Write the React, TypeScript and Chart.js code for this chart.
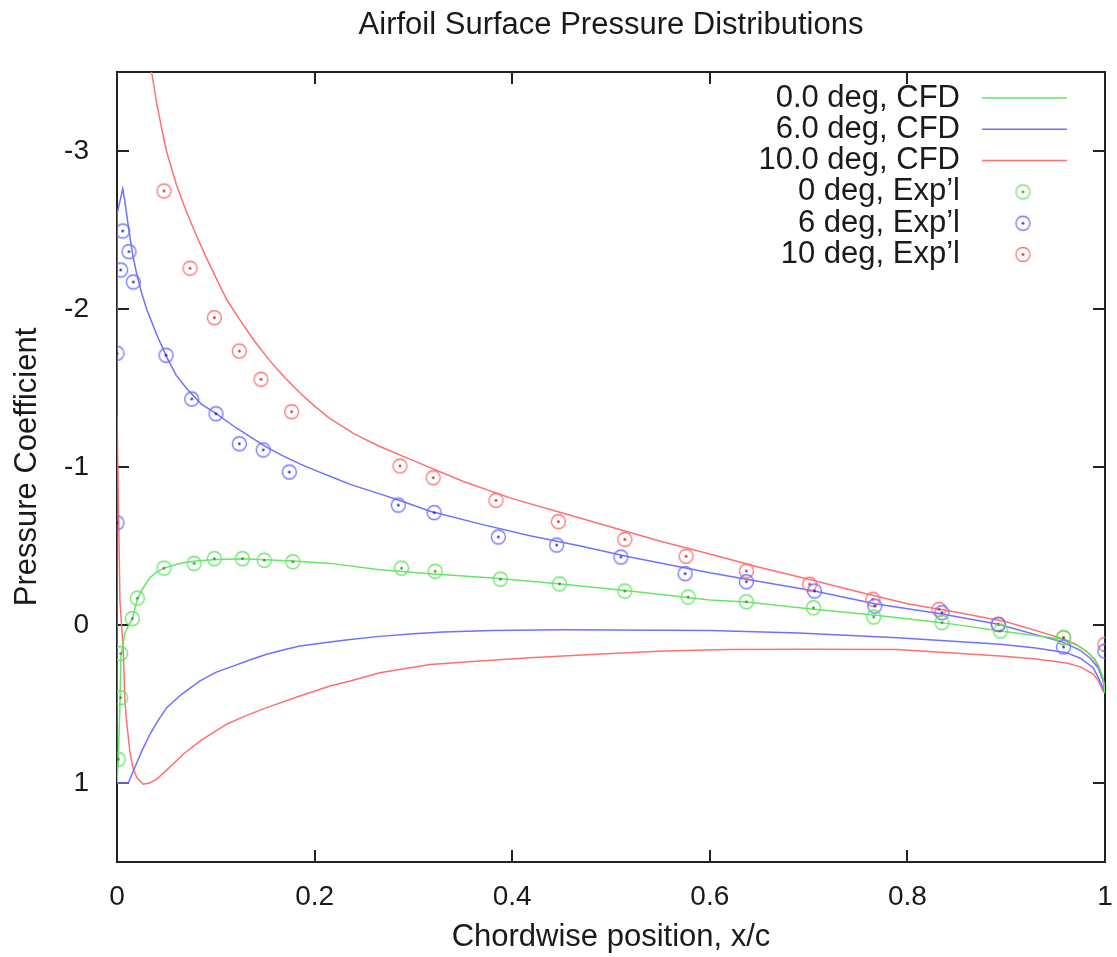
import React, { useEffect, useRef } from "react";
import { Chart, registerables } from "chart.js";

Chart.register(...registerables);

// ---------- text ----------
const TITLE = "Airfoil Surface Pressure Distributions";
const X_TITLE = "Chordwise position, x/c";
const Y_TITLE = "Pressure Coefficient";
const X_TICKS = [0, 0.2, 0.4, 0.6, 0.8, 1];
const Y_TICKS = [-3, -2, -1, 0, 1];
const LEGEND_LABELS = [
  "0.0 deg, CFD",
  "6.0 deg, CFD",
  "10.0 deg, CFD",
  "0 deg, Exp\u2019l",
  "6 deg, Exp\u2019l",
  "10 deg, Exp\u2019l",
];

// ---------- CFD 0 deg ----------
const cfd0X = [0, 0.0013, 0.003, 0.004, 0.008, 0.0155, 0.0205, 0.025, 0.0334, 0.04, 0.0476, 0.058, 0.067, 0.08, 0.1, 0.128, 0.178, 0.216, 0.266, 0.317, 0.384, 0.452, 0.519, 0.6, 0.637, 0.705, 0.766, 0.835, 0.894, 0.958, 0.975, 0.985, 0.993, 0.998, 1.0];
const cfd0Y = [1.0, 0.85, 0.5, 0.2, 0.05, -0.04, -0.16, -0.22, -0.3, -0.335, -0.36, -0.38, -0.394, -0.405, -0.415, -0.42, -0.405, -0.39, -0.35, -0.325, -0.296, -0.258, -0.215, -0.158, -0.146, -0.1, -0.063, -0.015, 0.038, 0.09, 0.14, 0.185, 0.25, 0.333, 0.43];

// ---------- CFD 6 deg (lower surface TE->LE, then upper LE->TE) ----------
const cfd6X = [1.0, 0.998, 0.993, 0.988, 0.975, 0.961, 0.93, 0.894, 0.79, 0.69, 0.6, 0.45, 0.38, 0.33, 0.3, 0.266, 0.236, 0.2156, 0.185, 0.17, 0.1515, 0.135, 0.1174, 0.1, 0.084, 0.065, 0.0503, 0.042, 0.0334, 0.025, 0.0165, 0.0114, 0.0, 0.0, 0.0058, 0.008, 0.012, 0.016, 0.02, 0.025, 0.03, 0.04, 0.05, 0.06, 0.07, 0.085, 0.1, 0.12, 0.135, 0.15, 0.168, 0.185, 0.2, 0.22, 0.236, 0.266, 0.29, 0.317, 0.367, 0.418, 0.469, 0.519, 0.6, 0.637, 0.706, 0.767, 0.835, 0.892, 0.958, 0.975, 0.985, 0.993, 0.998, 1.0];
const cfd6Y = [0.43, 0.397, 0.33, 0.27, 0.21, 0.175, 0.145, 0.122, 0.08, 0.05, 0.035, 0.03, 0.035, 0.045, 0.055, 0.072, 0.092, 0.108, 0.133, 0.155, 0.185, 0.22, 0.26, 0.3, 0.354, 0.44, 0.523, 0.6, 0.69, 0.8, 0.924, 1.0, 1.0, -2.6, -2.76, -2.68, -2.5, -2.34, -2.22, -2.1, -2.0, -1.84, -1.7, -1.58, -1.5, -1.4, -1.34, -1.25, -1.19, -1.13, -1.07, -1.02, -0.98, -0.93, -0.89, -0.83, -0.78, -0.72, -0.64, -0.565, -0.5, -0.43, -0.33, -0.29, -0.215, -0.135, -0.07, -0.005, 0.11, 0.16, 0.21, 0.27, 0.35, 0.43];

// ---------- CFD 10 deg (lower TE->LE, gap, upper from above the frame to TE) ----------
const cfd10X = [1.0, 0.998, 0.993, 0.988, 0.975, 0.961, 0.93, 0.894, 0.79, 0.7, 0.62, 0.553, 0.4855, 0.418, 0.367, 0.317, 0.266, 0.236, 0.2156, 0.185, 0.1515, 0.13, 0.111, 0.085, 0.067, 0.05, 0.04, 0.033, 0.0266, 0.02, 0.016, 0.013, 0.01, 0.008, 0.0064, 0.003, 0.0, 0.01, 0.02, 0.035, 0.04, 0.045, 0.05, 0.06, 0.07, 0.08, 0.09, 0.1, 0.111, 0.125, 0.14, 0.155, 0.17, 0.185, 0.2, 0.215, 0.24, 0.266, 0.3, 0.35, 0.4, 0.45, 0.5, 0.55, 0.6, 0.65, 0.7, 0.75, 0.8, 0.85, 0.9, 0.954, 0.97, 0.981, 0.99, 0.995, 0.999, 1.0];
const cfd10Y = [0.43, 0.418, 0.35, 0.31, 0.265, 0.24, 0.215, 0.196, 0.155, 0.154, 0.155, 0.165, 0.185, 0.207, 0.228, 0.25, 0.302, 0.354, 0.386, 0.449, 0.523, 0.575, 0.628, 0.73, 0.818, 0.92, 0.977, 1.0, 1.008, 0.966, 0.9, 0.797, 0.63, 0.48, 0.165, -0.15, -1.33, null, -4.4, -3.5, -3.31, -3.15, -3.0, -2.79, -2.62, -2.47, -2.33, -2.2, -2.06, -1.925, -1.79, -1.67, -1.565, -1.47, -1.385, -1.31, -1.21, -1.13, -1.04, -0.91, -0.8, -0.71, -0.62, -0.53, -0.45, -0.365, -0.29, -0.21, -0.135, -0.08, -0.02, 0.08, 0.12, 0.165, 0.22, 0.29, 0.37, 0.43];

// ---------- Experimental ----------
const exp0X = [0.0013, 0.0037, 0.0037, 0.0155, 0.0205, 0.0476, 0.078, 0.0985, 0.127, 0.149, 0.178, 0.288, 0.322, 0.388, 0.448, 0.514, 0.578, 0.637, 0.705, 0.766, 0.835, 0.894, 0.958];
const exp0Y = [0.85, 0.46, 0.18, -0.04, -0.17, -0.36, -0.39, -0.42, -0.42, -0.41, -0.4, -0.36, -0.34, -0.29, -0.26, -0.215, -0.177, -0.147, -0.109, -0.051, -0.015, 0.038, 0.08];

const exp6X = [0.0, 0.0, 0.0037, 0.0058, 0.0121, 0.0165, 0.0496, 0.0756, 0.1002, 0.1238, 0.148, 0.1744, 0.2847, 0.321, 0.386, 0.445, 0.51, 0.575, 0.637, 0.706, 0.767, 0.835, 0.892, 0.958, 1.0];
const exp6Y = [-0.647, -1.72, -2.247, -2.494, -2.363, -2.171, -1.707, -1.43, -1.337, -1.147, -1.108, -0.968, -0.759, -0.711, -0.557, -0.506, -0.43, -0.325, -0.274, -0.215, -0.12, -0.078, -0.004, 0.139, 0.165];

const exp10X = [0.0476, 0.0739, 0.0985, 0.1238, 0.1457, 0.1768, 0.2864, 0.32, 0.3836, 0.4467, 0.514, 0.576, 0.637, 0.701, 0.765, 0.832, 0.892, 0.958, 1.0];
const exp10Y = [-2.747, -2.258, -1.945, -1.734, -1.555, -1.35, -1.006, -0.932, -0.789, -0.654, -0.542, -0.435, -0.342, -0.258, -0.163, -0.099, -0.004, 0.08, 0.122];

// ---------- styles ----------
const GREEN = "rgb(102,230,102)";
const BLUE = "rgb(112,112,255)";
const RED = "rgb(255,112,112)";
const GREEN_DOT = "rgb(40,140,40)";
const BLUE_DOT = "rgb(30,30,180)";
const RED_DOT = "rgb(190,30,30)";
const FONT = '"Liberation Sans", Arial, Helvetica, sans-serif';
const TEXT = "#1a1a1a";

const zip = (xs: number[], ys: (number | null)[]) => xs.map((x, i) => ({ x, y: ys[i] }));

function makeMarker(ring: string, dot: string): HTMLCanvasElement {
  const c = document.createElement("canvas");
  c.width = 19;
  c.height = 19;
  const g = c.getContext("2d")!;
  g.strokeStyle = ring;
  g.lineWidth = 1.3;
  g.beginPath();
  g.arc(9.5, 9.5, 7, 0, Math.PI * 2);
  g.stroke();
  g.fillStyle = dot;
  g.beginPath();
  g.arc(9.5, 9.5, 1.3, 0, Math.PI * 2);
  g.fill();
  return c;
}

export default function App() {
  const ref = useRef<HTMLCanvasElement>(null);

  useEffect(() => {
    document.body.style.margin = "0";
    const canvas = ref.current;
    if (!canvas) return;

    const m0 = makeMarker(GREEN, GREEN_DOT);
    const m6 = makeMarker(BLUE, BLUE_DOT);
    const m10 = makeMarker(RED, RED_DOT);

    const legendItems = [
      { kind: "line", color: GREEN },
      { kind: "line", color: BLUE },
      { kind: "line", color: RED },
      { kind: "point", img: m0 },
      { kind: "point", img: m6 },
      { kind: "point", img: m10 },
    ];

    const framePlugin = {
      id: "frame",
      beforeDatasetsDraw(chart: any) {
        const { ctx, chartArea: a, scales } = chart;
        ctx.save();
        ctx.strokeStyle = "#222";
        ctx.lineWidth = 2;
        ctx.strokeRect(a.left, a.top, a.right - a.left, a.bottom - a.top);
        const tl = 12;
        X_TICKS.forEach((v) => {
          const px = Math.round(scales.x.getPixelForValue(v));
          ctx.beginPath();
          ctx.moveTo(px, a.bottom);
          ctx.lineTo(px, a.bottom - tl);
          ctx.moveTo(px, a.top);
          ctx.lineTo(px, a.top + tl);
          ctx.stroke();
        });
        Y_TICKS.forEach((v) => {
          const py = Math.round(scales.y.getPixelForValue(v));
          ctx.beginPath();
          ctx.moveTo(a.left, py);
          ctx.lineTo(a.left + tl, py);
          ctx.moveTo(a.right, py);
          ctx.lineTo(a.right - tl, py);
          ctx.stroke();
        });
        ctx.restore();
      },
      afterDraw(chart: any) {
        const { ctx, chartArea: a } = chart;
        ctx.save();
        ctx.font = `31px ${FONT}`;
        ctx.fillStyle = TEXT;
        ctx.textAlign = "right";
        ctx.textBaseline = "middle";
        const textRight = a.right - 145;
        const lineStart = a.right - 123;
        const lineEnd = a.right - 38;
        const ptX = a.right - 82;
        const rowH = 31.3;
        const y0 = a.top + 26;
        LEGEND_LABELS.forEach((label, i) => {
          const y = y0 + i * rowH;
          ctx.fillText(label, textRight, y);
          const it: any = legendItems[i];
          if (it.kind === "line") {
            ctx.strokeStyle = it.color;
            ctx.lineWidth = 1.5;
            ctx.beginPath();
            ctx.moveTo(lineStart, y);
            ctx.lineTo(lineEnd, y);
            ctx.stroke();
          } else {
            ctx.drawImage(it.img, ptX - it.img.width / 2, y - it.img.height / 2);
          }
        });
        ctx.restore();
      },
    };

    const lineDs = (label: string, xs: number[], ys: (number | null)[], color: string) => ({
      label,
      data: zip(xs, ys),
      showLine: true,
      borderColor: color,
      backgroundColor: color,
      borderWidth: 1.5,
      pointRadius: 0,
      spanGaps: false,
      tension: 0,
    });
    const ptDs = (label: string, xs: number[], ys: number[], img: HTMLCanvasElement) => ({
      label,
      data: zip(xs, ys),
      showLine: false,
      pointStyle: img,
      pointRadius: 8,
    });

    const chart = new Chart(canvas, {
      type: "scatter",
      data: {
        datasets: [
          ptDs(LEGEND_LABELS[3], exp0X, exp0Y, m0),
          ptDs(LEGEND_LABELS[4], exp6X, exp6Y, m6),
          ptDs(LEGEND_LABELS[5], exp10X, exp10Y, m10),
          lineDs(LEGEND_LABELS[0], cfd0X, cfd0Y, GREEN),
          lineDs(LEGEND_LABELS[1], cfd6X, cfd6Y, BLUE),
          lineDs(LEGEND_LABELS[2], cfd10X, cfd10Y, RED),
        ] as any,
      },
      options: {
        animation: false,
        responsive: true,
        maintainAspectRatio: false,
        layout: { padding: { left: 0, right: 12, top: 0, bottom: 0 } },
        plugins: {
          legend: { display: false },
          tooltip: { enabled: false },
          title: {
            display: true,
            fullSize: false,
            text: TITLE,
            color: TEXT,
            font: { family: FONT, size: 31, weight: "normal" },
            padding: { top: 6.4, bottom: 28.4 },
          },
        },
        scales: {
          x: {
            type: "linear",
            position: "bottom",
            min: 0,
            max: 1,
            grid: { display: false },
            border: { display: false },
            afterBuildTicks: (s: any) => {
              s.ticks = X_TICKS.map((v) => ({ value: v }));
            },
            afterFit: (s: any) => {
              s.height = 95;
              s.paddingLeft = 0;
              s.paddingRight = 0;
            },
            ticks: {
              color: TEXT,
              font: { family: FONT, size: 28 },
              padding: 10,
              maxRotation: 0,
              callback: (v: any) => String(Number(Number(v).toFixed(1))),
            },
            title: {
              display: true,
              text: X_TITLE,
              color: TEXT,
              font: { family: FONT, size: 31 },
              padding: { top: 0, bottom: 1.4 },
            },
          },
          y: {
            type: "linear",
            reverse: true,
            min: -3.5,
            max: 1.5,
            grid: { display: false },
            border: { display: false },
            afterBuildTicks: (s: any) => {
              s.ticks = Y_TICKS.map((v) => ({ value: v }));
            },
            afterFit: (s: any) => {
              s.width = 117;
            },
            ticks: {
              color: TEXT,
              font: { family: FONT, size: 28 },
              padding: 20,
              callback: (v: any) => String(v),
            },
            title: {
              display: true,
              text: Y_TITLE,
              color: TEXT,
              font: { family: FONT, size: 31 },
              padding: { top: 8.4, bottom: 0 },
            },
          },
        },
      } as any,
      plugins: [framePlugin as any],
    });

    return () => chart.destroy();
  }, []);

  return (
    <div style={{ width: "1117px", height: "957px", position: "relative" }}>
      <canvas ref={ref} />
    </div>
  );
}
